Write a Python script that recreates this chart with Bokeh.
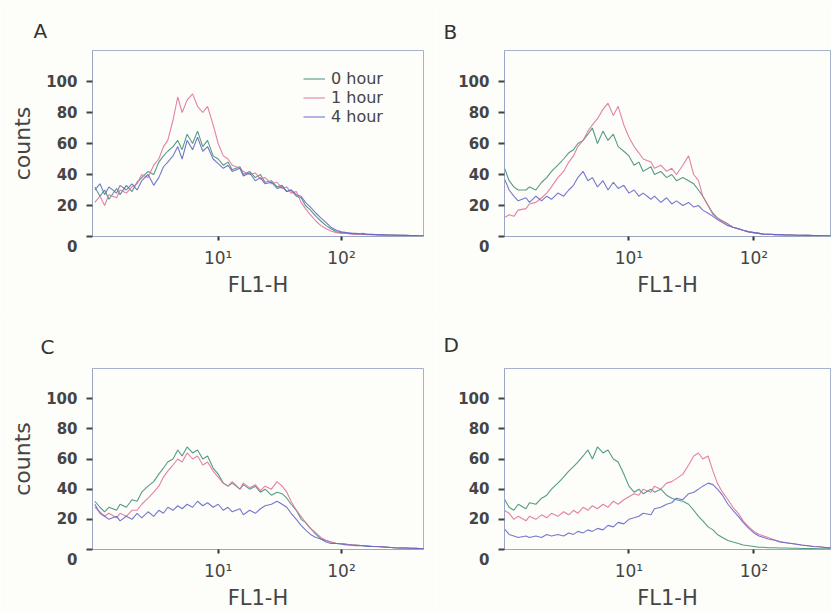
from bokeh.plotting import figure
from bokeh.layouts import column, row
from bokeh.models import Range1d, FixedTicker, Legend, LegendItem
from bokeh.embed import file_html
from bokeh.resources import INLINE

# FL1-H bin positions (log axis)
fl1_h = [1.0, 1.1, 1.2, 1.3, 1.5, 1.6, 1.8, 2.0, 2.2, 2.4, 2.7, 3.0, 3.3, 3.6, 3.9, 4.3, 4.7, 5.1, 5.6, 6.2, 6.8, 7.5, 8.2, 9.1,
         10, 11, 12, 13, 15, 16, 18, 20, 22, 24, 27, 30, 33, 36, 39, 43, 47, 51, 56, 62, 68, 75, 82, 91,
         100, 110, 120, 130, 150, 160, 180, 200, 220, 240, 270, 300, 330, 360, 390, 430, 470]

series_labels = ["0 hour", "1 hour", "4 hour"]
y_ticks = [0, 20, 40, 60, 80, 100]
y_tick_labels = ["\n0", "20", "40", "60", "80", "100"]
x_ticks = [10, 100]
x_tick_labels = ["10¹", "10²"]

# Panel A
a_0h = [32, 26, 30, 24, 31, 27, 33, 29, 35, 38, 42, 40, 48, 52, 55, 58, 62, 56, 66, 60, 68, 58, 62, 52,
        50, 46, 48, 43, 45, 40, 42, 38, 40, 35, 36, 32, 33, 29, 30, 26, 25, 20, 17, 13, 10, 7, 5, 3,
        2.5, 2, 2, 1.5, 2, 1.5, 1.5, 1, 1.2, 1, 1, 0.8, 0.8, 0.6, 0.6, 0.5, 0.5]
a_1h = [22, 26, 20, 27, 25, 30, 28, 32, 34, 40, 38, 46, 50, 58, 62, 75, 90, 80, 88, 92, 84, 80, 84, 72,
        60, 52, 50, 46, 44, 42, 40, 41, 37, 38, 34, 35, 31, 32, 28, 29, 22, 18, 14, 10, 7, 5, 3.5, 2.5,
        2, 2, 1.5, 1.5, 1.5, 1.2, 1.2, 1, 1, 0.8, 0.8, 0.7, 0.6, 0.6, 0.5, 0.5, 0.5]
a_4h = [30, 34, 27, 32, 28, 33, 30, 34, 30, 36, 40, 33, 38, 45, 48, 52, 58, 50, 62, 56, 64, 55, 58, 50,
        47, 44, 46, 42, 44, 39, 41, 36, 38, 34, 35, 31, 32, 29, 30, 27, 26, 22, 19, 15, 12, 9, 6, 4,
        3, 2.5, 2, 2, 1.5, 1.5, 1.2, 1.2, 1, 1, 0.8, 0.8, 0.7, 0.6, 0.6, 0.5, 0.5]

# Panel B
b_0h = [45, 36, 32, 30, 30, 32, 30, 35, 38, 42, 46, 50, 54, 56, 60, 62, 66, 70, 60, 68, 62, 66, 58, 55,
        52, 46, 48, 42, 45, 40, 42, 38, 40, 36, 38, 36, 34, 30, 26, 20, 15, 12, 10, 8, 6, 5, 4, 3,
        2.5, 2, 1.5, 1.5, 1.2, 1.2, 1, 1, 0.8, 0.8, 0.7, 0.6, 0.6, 0.5, 0.5, 0.5, 0.5]
b_1h = [12, 14, 13, 17, 18, 21, 22, 25, 28, 32, 38, 42, 48, 52, 58, 62, 68, 72, 76, 82, 86, 78, 84, 72,
        64, 58, 54, 50, 48, 44, 46, 42, 44, 40, 46, 52, 40, 36, 26, 20, 14, 12, 10, 8, 6, 5, 4, 3,
        2.5, 2, 1.5, 1.5, 1.2, 1.2, 1, 1, 0.8, 0.8, 0.7, 0.6, 0.6, 0.5, 0.5, 0.5, 0.5]
b_4h = [38, 30, 26, 23, 25, 22, 26, 23, 26, 24, 28, 26, 30, 33, 38, 42, 36, 38, 32, 36, 30, 35, 31, 33,
        28, 30, 26, 28, 24, 26, 22, 25, 21, 23, 20, 22, 19, 20, 17, 15, 13, 11, 9, 7, 6, 5, 4, 3,
        2.5, 2, 1.5, 1.5, 1.2, 1.2, 1, 1, 0.8, 0.8, 0.7, 0.6, 0.6, 0.5, 0.5, 0.5, 0.5]

# Panel C
c_0h = [32, 28, 25, 28, 26, 30, 28, 33, 32, 38, 42, 45, 50, 54, 58, 60, 66, 62, 68, 64, 66, 60, 62, 54,
        50, 44, 42, 44, 40, 43, 40, 42, 38, 40, 36, 38, 37, 34, 30, 26, 20, 18, 14, 10, 7, 6, 5, 4,
        4, 3.5, 3, 3, 2.5, 2.5, 2, 2, 1.8, 1.5, 1.2, 1, 1, 0.8, 0.8, 0.6, 0.6]
c_1h = [28, 25, 22, 24, 21, 24, 22, 26, 26, 30, 34, 38, 42, 48, 52, 56, 60, 58, 64, 60, 62, 56, 58, 52,
        48, 44, 42, 45, 40, 44, 41, 43, 39, 42, 40, 45, 42, 38, 32, 26, 22, 18, 14, 11, 8, 6, 5, 4,
        4, 3.5, 3, 3, 2.5, 2.5, 2, 2, 1.8, 1.5, 1.2, 1, 1, 0.8, 0.8, 0.6, 0.6]
c_4h = [30, 24, 22, 20, 22, 19, 22, 20, 24, 21, 25, 22, 26, 24, 28, 26, 29, 27, 30, 28, 32, 29, 31, 28,
        30, 26, 28, 25, 27, 23, 26, 24, 27, 29, 30, 32, 30, 28, 24, 20, 16, 13, 10, 8, 7, 5, 4, 4,
        3.5, 3, 3, 2.5, 2.5, 2, 2, 1.8, 1.5, 1.5, 1.2, 1, 1, 0.8, 0.8, 0.6, 0.6]

# Panel D
d_0h = [34, 28, 26, 30, 27, 31, 30, 34, 36, 40, 44, 48, 52, 55, 58, 62, 66, 60, 68, 64, 66, 60, 58, 50,
        42, 38, 40, 37, 40, 38, 40, 36, 34, 33, 32, 30, 26, 22, 19, 15, 13, 10, 8, 6, 5, 4, 3, 2.5,
        2, 1.5, 1.5, 1.2, 1.2, 1, 1, 0.8, 0.8, 0.7, 0.6, 0.6, 0.5, 0.5, 0.5, 0.5, 0.5]
d_1h = [26, 24, 20, 22, 19, 22, 20, 23, 21, 24, 22, 25, 23, 26, 24, 28, 26, 29, 27, 30, 28, 32, 30, 33,
        35, 37, 36, 40, 38, 42, 40, 44, 45, 47, 50, 56, 62, 64, 60, 62, 52, 44, 38, 33, 28, 24, 19, 15,
        12, 10, 9, 8, 6, 5.5, 4.5, 4, 3.5, 3, 2.5, 2, 1.8, 1.5, 1.2, 1, 1]
d_4h = [14, 10, 9, 8, 9, 8, 9, 8, 10, 9, 10, 9, 11, 10, 12, 11, 13, 12, 14, 13, 16, 15, 18, 17,
        20, 21, 22, 24, 23, 27, 28, 30, 31, 34, 33, 37, 38, 40, 42, 44, 43, 40, 36, 30, 26, 22, 18, 14,
        11, 9, 8, 7, 6, 5, 4.5, 4, 3.5, 3, 2.5, 2, 1.8, 1.5, 1.2, 1, 1]

BG = "#fdfdf9"
LINE_COLORS = ["#3f8d78", "#e0709c", "#6264c8"]
FONT = "DejaVu Sans"
TXT = "#454545"


def make_panel(letter, s0, s1, s4, xr, width, height, bl, br, bt, bb,
               ylabel, letter_offset, letter_standoff, legend=False):
    p = figure(width=width, height=height, x_axis_type="log",
               x_range=Range1d(*xr), y_range=Range1d(0, 120),
               output_backend="svg", toolbar_location=None,
               min_border_left=bl, min_border_right=br,
               min_border_top=bt, min_border_bottom=bb,
               background_fill_color=BG, border_fill_color=BG)
    p.grid.visible = False
    p.outline_line_color = "#a6b2cc"
    rends = []
    for s, c in zip([s0, s1, s4], LINE_COLORS):
        rends.append(p.line(fl1_h, s, line_color=c, line_width=1.1, line_alpha=0.88))

    p.title.text = letter
    p.title.align = "left"
    p.title.offset = letter_offset
    p.title.standoff = letter_standoff
    p.title.text_font = FONT
    p.title.text_font_size = "20px"
    p.title.text_font_style = "normal"
    p.title.text_color = "#333333"

    p.xaxis.ticker = FixedTicker(ticks=x_ticks)
    p.xaxis.major_label_overrides = {t: lab for t, lab in zip(x_ticks, x_tick_labels)}
    p.xaxis.minor_tick_line_color = None
    p.xaxis.major_tick_out = 4
    p.xaxis.major_tick_in = 0
    p.xaxis.major_tick_line_color = "#333333"
    p.xaxis.major_tick_line_width = 2
    p.xaxis.axis_line_color = "#9aa6c4"
    p.xaxis.major_label_text_font = FONT
    p.xaxis.major_label_text_font_size = "17px"
    p.xaxis.major_label_text_color = TXT
    p.xaxis.major_label_standoff = 7
    p.xaxis.axis_label = "FL1-H"
    p.xaxis.axis_label_text_font = FONT
    p.xaxis.axis_label_text_font_size = "21px"
    p.xaxis.axis_label_text_font_style = "normal"
    p.xaxis.axis_label_text_color = TXT
    p.xaxis.axis_label_standoff = 2

    p.yaxis.ticker = FixedTicker(ticks=y_ticks)
    p.yaxis.major_label_overrides = {t: lab for t, lab in zip(y_ticks, y_tick_labels)}
    p.yaxis.minor_tick_line_color = None
    p.yaxis.major_tick_out = 6
    p.yaxis.major_tick_in = 0
    p.yaxis.major_tick_line_color = "#444444"
    p.yaxis.major_tick_line_width = 2
    p.yaxis.axis_line_color = "#9aa6c4"
    p.yaxis.major_label_text_font = FONT
    p.yaxis.major_label_text_font_size = "15px"
    p.yaxis.major_label_text_font_style = "bold"
    p.yaxis.major_label_text_color = TXT
    p.yaxis.major_label_standoff = 9
    if ylabel:
        p.yaxis.axis_label = "counts"
        p.yaxis.axis_label_text_font = FONT
        p.yaxis.axis_label_text_font_size = "22px"
        p.yaxis.axis_label_text_font_style = "normal"
        p.yaxis.axis_label_text_color = TXT
        p.yaxis.axis_label_standoff = 8

    if legend:
        items = [LegendItem(label=lab, renderers=[r]) for lab, r in zip(series_labels, rends)]
        lg = Legend(items=items, location=(211, 110), background_fill_alpha=0,
                    border_line_color=None, padding=0, spacing=0, margin=0,
                    label_height=17, glyph_height=17, glyph_width=22, label_standoff=6,
                    label_text_font=FONT, label_text_font_size="16px", label_text_color=TXT)
        p.add_layout(lg)
    return p


pA = make_panel("A", a_0h, a_1h, a_4h, (0.957, 462), 436, 318, 92, 13, 50, 82,
                True, -59, 15, legend=True)
pB = make_panel("B", b_0h, b_1h, b_4h, (1.01, 410), 395, 318, 68, 1, 50, 82,
                False, -61, 13)
pC = make_panel("C", c_0h, c_1h, c_4h, (0.957, 462), 436, 294, 92, 13, 50, 61,
                True, -52, 20)
pD = make_panel("D", d_0h, d_1h, d_4h, (1.01, 410), 395, 294, 68, 1, 50, 61,
                False, -61, 23)

layout = column(row(pA, pB), row(pC, pD))
open("out.html", "w").write(file_html(layout, INLINE))
